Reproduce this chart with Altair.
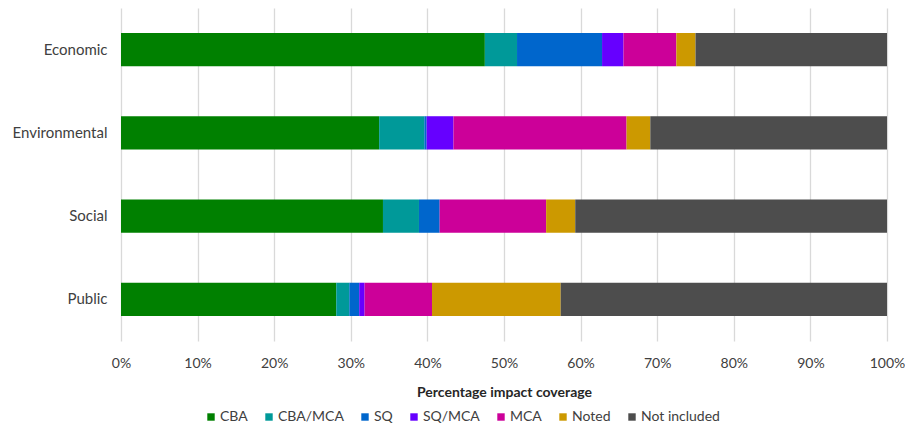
import altair as alt
import pandas as pd

categories = ["Economic", "Environmental", "Social", "Public"]
series = ["CBA", "CBA/MCA", "SQ", "SQ/MCA", "MCA", "Noted", "Not included"]
colors = ["#008000", "#009999", "#0066CC", "#6600FF", "#CC0099", "#CC9900", "#4D4D4D"]

cba = [47.5, 33.7, 34.2, 28.1]
cba_mca = [4.2, 5.9, 4.7, 1.7]
sq = [11.1, 0.3, 2.7, 1.3]
sq_mca = [2.8, 3.5, 0.0, 0.7]
mca = [6.9, 22.6, 13.9, 8.8]
noted = [2.5, 3.1, 3.8, 16.8]
not_included = [25.0, 30.9, 40.7, 42.6]

values = [cba, cba_mca, sq, sq_mca, mca, noted, not_included]
rows = []
for si, (s, vals) in enumerate(zip(series, values)):
    for c, v in zip(categories, vals):
        rows.append({"category": c, "series": s, "value": v / 100.0, "order": si})
df = pd.DataFrame(rows)

FONT = "Lato"

chart = alt.Chart(df).mark_bar().encode(
    y=alt.Y("category:N", sort=categories, title=None,
            scale=alt.Scale(paddingInner=0.6, paddingOuter=0.3),
            axis=alt.Axis(domain=False, ticks=False, labelPadding=14,
                          labelFontSize=15, labelColor="#404040", labelFont=FONT)),
    x=alt.X("sum(value):Q", title="Percentage impact coverage",
            scale=alt.Scale(domain=[0, 1], nice=False),
            axis=alt.Axis(format=".0%", values=[i / 10 for i in range(11)],
                          domain=False, ticks=False, tickSize=0, labelPadding=15,
                          labelFlush=False,
                          grid=True, gridColor="#D9D9D9", gridWidth=1.3,
                          labelFontSize=14, labelColor="#404040", labelFont=FONT,
                          titleFontSize=14, titleFont=FONT, titleFontWeight="bold",
                          titleColor="#262626", titlePadding=15)),
    color=alt.Color("series:N", scale=alt.Scale(domain=series, range=colors),
                    legend=alt.Legend(title=None, orient="none", direction="horizontal",
                                      legendX=83, legendY=402, symbolType="square",
                                      symbolSize=55, symbolStrokeWidth=0,
                                      labelFontSize=14, labelFont=FONT, labelColor="#404040",
                                      columnPadding=14, labelOffset=2)),
    order=alt.Order("order:Q", sort="ascending"),
).properties(
    width=766, height=333,
    autosize=alt.AutoSizeParams(type="none"),
    padding={"left": 113, "top": 0, "right": 18, "bottom": 83},
).configure_view(stroke=None)

chart.save("out.html", embed_options={"renderer": "svg", "actions": False})
